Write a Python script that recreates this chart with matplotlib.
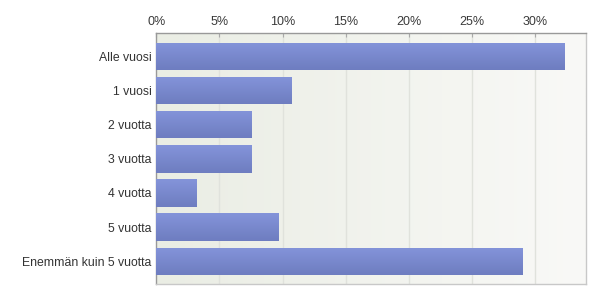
import numpy as np
import matplotlib
matplotlib.use("Agg")
import matplotlib.pyplot as plt
from matplotlib.colors import LinearSegmentedColormap

categories = ["Alle vuosi", "1 vuosi", "2 vuotta", "3 vuotta", "4 vuotta",
              "5 vuotta", "Enemmän kuin 5 vuotta"]
values = [32.3, 10.75, 7.53, 7.53, 3.23, 9.68, 29.03]
xticks = [0, 5, 10, 15, 20, 25, 30]
xtick_labels = ["0%", "5%", "10%", "15%", "20%", "25%", "30%"]

plt.rcParams['font.family'] = ['Liberation Sans', 'DejaVu Sans']

fig = plt.figure(figsize=(6.0, 2.99), dpi=100)
ax = fig.add_axes([0.2605, 0.049, 0.7155, 0.8405])

xmax = 33.97
ylo, yhi = 6.68, -0.69
ax.set_xlim(0, xmax)
ax.set_ylim(ylo, yhi)

# background gradient
bg = LinearSegmentedColormap.from_list("bg", ["#eaede4", "#f9f9f7"])
grad = np.linspace(0, 1, 256).reshape(1, -1)
ax.imshow(grad, cmap=bg, aspect="auto", extent=[0, xmax, ylo, yhi], zorder=0)

for x in xticks[1:]:
    ax.axvline(x, color="#e0e2dc", lw=1.0, zorder=1)

bars = ax.barh(range(len(categories)), values, height=0.8, color="#7a89cf",
               zorder=2, linewidth=0)

bar_cmap = LinearSegmentedColormap.from_list("bar", ["#8494da", "#6e7dc0"])
vgrad = np.linspace(0, 1, 64).reshape(-1, 1)
for b in bars:
    x0, y0, w, h = b.get_x(), b.get_y(), b.get_width(), b.get_height()
    im = ax.imshow(vgrad, cmap=bar_cmap, aspect="auto",
                   extent=[x0, x0 + w, y0 + h, y0], zorder=3)
    im.set_clip_path(b)

ax.set_xlim(0, xmax)
ax.set_ylim(ylo, yhi)

ax.set_yticks(range(len(categories)))
ax.set_yticklabels(categories, fontsize=8.8, color="#333333")
ax.tick_params(axis="y", length=0, pad=3.5)

ax.xaxis.tick_top()
ax.set_xticks(xticks)
ax.set_xticklabels(xtick_labels, fontsize=9, color="#3a3a3a")
ax.tick_params(axis="x", direction="in", length=3, color="#aaaaaa", pad=3.5)

ax.spines["top"].set_color("#999999")
ax.spines["left"].set_color("#999999")
ax.spines["right"].set_color("#c8c8c8")
ax.spines["bottom"].set_color("#c8c8c8")
for s in ax.spines.values():
    s.set_linewidth(1.0)

fig.savefig("out.png", dpi=100, facecolor="white")
